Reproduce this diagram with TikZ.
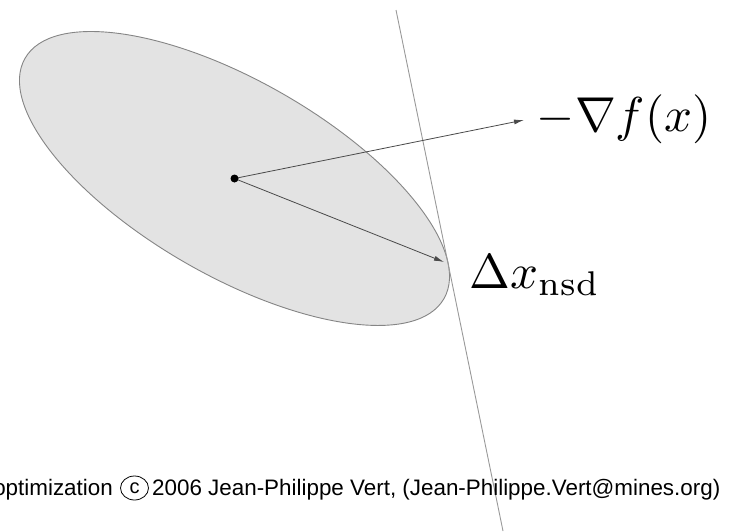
\documentclass[tikz,border=0pt]{standalone}
\usepackage{fontspec}
\newfontfamily\footfont{Liberation Sans}
\usetikzlibrary{arrows.meta,shapes.geometric}
\definecolor{ellfill}{HTML}{E3E3E3}
\definecolor{ellline}{HTML}{858585}
\definecolor{tanline}{HTML}{999999}
\definecolor{arrcol}{HTML}{4A4A4A}
\begin{document}
\begin{tikzpicture}[x=1pt,y=-1pt,
  vec/.style={draw=arrcol, line width=0.8pt, -{Latex[length=10pt,width=5pt]}},
  mathlbl/.style={inner sep=0pt, anchor=base west, scale=4.9},
  foot/.style={inner sep=0pt, font=\footfont\fontsize{22.4}{26}\selectfont}]
\useasboundingbox (0,0) rectangle (731,531);
\clip (0,0) rectangle (731,531);
\coordinate (c) at (234.5,178.5);
\draw[ellline, fill=ellfill, line width=0.9pt, rotate around={-29.85:(c)}] (c) ellipse [x radius=241.5pt, y radius=97.5pt];
\coordinate (t) at (396,10);
\coordinate (b) at (503,531);
\draw[tanline, line width=0.9pt] (t) -- (b);
\coordinate (g) at (524,120);
\coordinate (d) at (444,262);
\draw[vec] (c) -- (g);
\draw[vec] (c) -- (d);
\node[circle, fill=black, inner sep=0pt, minimum size=8pt] (c0) at (c) {};
\node[mathlbl] (gl) at (536,131) {$-\nabla f(x)$};
\node[mathlbl] (dl) at (469,288) {$\Delta x_{\mathrm{nsd}}$};
\node[foot, anchor=base east] (f1) at (113,495) {optimization};
\node[draw, ellipse, inner sep=0pt, minimum width=28pt, minimum height=24pt, line width=0.8pt, font=\footfont\fontsize{20}{24}\selectfont] (cc) at (134.5,488) {c};
\node[foot, anchor=base west] (f2) at (152,495) {2006 Jean-Philippe Vert, (Jean-Philippe.Vert@mines.org)};
\end{tikzpicture}
\end{document}
